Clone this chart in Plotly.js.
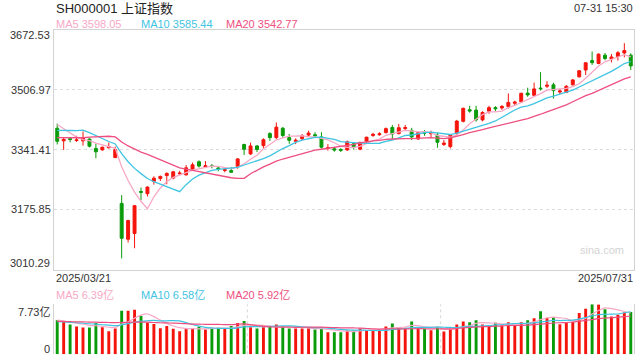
<!DOCTYPE html>
<html><head><meta charset="utf-8">
<script src="https://cdn.plot.ly/plotly-3.0.1.min.js"></script>
<style>html,body{margin:0;padding:0;background:#fff}#chart{width:640px;height:360px}</style>
</head><body><div id="chart"></div>
<script>
const dates = ["2025/03/21","2025/03/24","2025/03/25","2025/03/26","2025/03/27","2025/03/28","2025/03/31",
"2025/04/01","2025/04/02","2025/04/03","2025/04/07","2025/04/08","2025/04/09","2025/04/10","2025/04/11","2025/04/14","2025/04/15","2025/04/16","2025/04/17","2025/04/18","2025/04/21","2025/04/22","2025/04/23","2025/04/24","2025/04/25","2025/04/28","2025/04/29","2025/04/30",
"2025/05/06","2025/05/07","2025/05/08","2025/05/09","2025/05/12","2025/05/13","2025/05/14","2025/05/15","2025/05/16","2025/05/19","2025/05/20","2025/05/21","2025/05/22","2025/05/23","2025/05/26","2025/05/27","2025/05/28","2025/05/29","2025/05/30",
"2025/06/03","2025/06/04","2025/06/05","2025/06/06","2025/06/09","2025/06/10","2025/06/11","2025/06/12","2025/06/13","2025/06/16","2025/06/17","2025/06/18","2025/06/19","2025/06/20","2025/06/23","2025/06/24","2025/06/25","2025/06/26","2025/06/27","2025/06/30",
"2025/07/01","2025/07/02","2025/07/03","2025/07/04","2025/07/07","2025/07/08","2025/07/09","2025/07/10","2025/07/11","2025/07/14","2025/07/15","2025/07/16","2025/07/17","2025/07/18","2025/07/21","2025/07/22","2025/07/23","2025/07/24","2025/07/25","2025/07/28","2025/07/29","2025/07/30","2025/07/31"];

const open = [3401,3366,3372,3367,3366,3371,3345,3341,3347,3320,3193,3094,3110,3226,3220,3254,3262,3270,3263,3275,3272,3288,3308,3294,3297,3291,3284,3284,
3295,3356,3330,3352,3353,3386,3375,3401,3375,3365,3372,3382,3383,3377,3345,3344,3342,3341,3358,
3343,3364,3381,3383,3389,3403,3386,3400,3395,3371,3390,3386,3382,3356,3350,3386,3420,3452,3451,3424,
3448,3458,3457,3461,3470,3474,3498,3492,3512,3517,3521,3501,3500,3521,3543,3562,3588,3580,3603,3593,3599,3609,3603];
const high = [3414,3376,3376,3380,3392,3373,3358,3350,3361,3350,3216,3148,3188,3237,3240,3268,3270,3279,3283,3283,3299,3306,3312,3310,3302,3296,3292,3293,
3318,3358,3361,3354,3373,3390,3417,3404,3385,3373,3385,3394,3390,3390,3357,3348,3346,3367,3362,
3363,3377,3388,3390,3403,3410,3413,3410,3402,3391,3396,3394,3389,3368,3385,3424,3458,3463,3463,3448,
3463,3462,3465,3497,3477,3499,3513,3527,3556,3531,3527,3510,3520,3537,3562,3583,3613,3608,3609,3606,3614,3636,3608];
const low = [3356,3341,3362,3363,3353,3348,3318,3339,3345,3318,3041,3085,3069,3202,3212,3245,3255,3246,3260,3271,3270,3286,3292,3291,3290,3282,3279,3278,
3289,3327,3327,3335,3345,3366,3370,3375,3358,3357,3368,3378,3374,3345,3339,3336,3335,3338,3342,
3340,3360,3377,3380,3386,3371,3384,3393,3368,3369,3380,3376,3347,3352,3345,3382,3417,3444,3419,3420,
3441,3448,3452,3455,3465,3471,3488,3490,3505,3512,3483,3495,3498,3519,3541,3548,3576,3578,3589,3583,3588,3597,3562];
const close = [3364.83,3370.03,3369.98,3368.70,3373.75,3351.31,3335.75,3348.44,3350.13,3342.01,3096.58,3145.55,3186.81,3223.64,3238.23,3262.81,3267.66,3276.00,3280.34,3276.73,3291.43,3299.76,3296.36,3297.29,3295.06,3288.41,3286.65,3279.03,
3316.11,3342.67,3352.00,3342.00,3369.24,3374.87,3403.95,3380.82,3367.46,3367.58,3380.48,3387.57,3380.19,3348.37,3346.84,3340.69,3339.93,3363.45,3347.49,
3361.98,3376.20,3384.10,3385.36,3399.77,3384.82,3402.32,3402.66,3377.00,3388.73,3387.40,3388.81,3362.11,3359.90,3381.58,3420.57,3455.97,3448.45,3424.23,3444.43,
3457.75,3454.79,3461.15,3472.32,3473.13,3497.48,3493.05,3509.68,3510.18,3519.65,3505.00,3503.78,3516.83,3534.48,3559.79,3581.86,3582.30,3605.73,3593.66,3597.94,3609.71,3615.72,3573.21];

const ma5 = [3411.22,3400.00,3388.04,3376.50,3369.46,3366.75,3359.90,3355.59,3351.88,3345.53,3294.58,3256.54,3224.22,3198.92,3178.16,3211.41,3235.83,3253.67,3265.01,3272.71,3278.43,3284.85,3288.92,3292.31,3295.98,3295.38,3292.75,3289.29,
3293.05,3302.57,3315.29,3326.36,3344.40,3356.16,3368.41,3374.18,3379.27,3378.94,3380.06,3376.78,3376.66,3372.84,3368.69,3360.73,3351.20,3347.86,3347.68,
3350.71,3357.81,3366.64,3371.03,3381.48,3386.05,3391.27,3394.99,3393.31,3391.11,3391.62,3388.92,3380.81,3377.39,3375.96,3382.59,3396.03,3413.29,3426.16,3438.73,
3446.17,3445.93,3448.47,3458.09,3463.83,3471.77,3479.43,3489.13,3496.70,3506.01,3507.51,3509.66,3511.09,3515.95,3523.98,3539.35,3555.05,3572.83,3584.67,3592.30,3597.87,3604.55,3598.05];
const ma10 = [3395.23,3395.62,3394.63,3394.31,3395.81,3388.99,3379.95,3371.82,3364.19,3357.49,3330.67,3308.22,3289.90,3275.40,3261.85,3253.00,3246.19,3238.94,3231.96,3225.44,3244.92,3260.34,3271.30,3278.66,3284.34,3286.90,3288.80,3289.11,
3292.68,3299.28,3305.33,3309.56,3316.85,3324.60,3335.49,3344.73,3352.82,3361.67,3368.11,3372.60,3375.42,3376.05,3373.81,3370.40,3363.99,3362.26,3360.26,
3359.70,3359.27,3358.92,3359.44,3364.58,3368.38,3374.54,3380.82,3382.17,3386.29,3388.84,3390.10,3387.90,3385.35,3383.53,3387.11,3392.47,3397.05,3401.78,3407.35,
3414.38,3420.98,3430.88,3442.12,3451.28,3458.97,3462.68,3468.80,3477.40,3484.92,3489.64,3494.54,3500.11,3506.33,3514.99,3523.43,3532.36,3541.96,3550.31,3558.14,3568.61,3579.80,3585.44];
const ma20 = [3374.86,3374.71,3375.91,3375.34,3374.62,3376.14,3377.08,3378.29,3378.70,3376.75,3362.95,3351.92,3342.27,3334.85,3328.83,3320.99,3313.07,3305.38,3298.08,3291.46,3287.79,3284.28,3280.60,3277.03,3273.09,3269.95,3267.49,3264.02,
3262.32,3262.36,3275.13,3284.95,3294.07,3301.63,3309.92,3315.82,3320.81,3325.39,3330.40,3335.94,3340.38,3342.81,3345.33,3347.50,3349.74,3353.50,3356.54,
3360.68,3363.69,3365.76,3367.43,3370.32,3371.10,3372.47,3372.40,3372.21,3373.28,3374.27,3374.68,3373.41,3372.40,3374.06,3377.74,3383.51,3388.93,3391.97,3396.82,
3401.61,3405.54,3409.39,3413.74,3417.41,3423.04,3427.58,3432.93,3439.59,3446.13,3452.01,3457.76,3465.50,3474.23,3483.14,3491.20,3497.52,3505.38,3513.85,3521.53,3529.13,3537.17,3542.78];

// volume in 亿
const volume = [5.25,5.09,4.62,4.30,4.15,4.15,4.83,4.20,3.57,3.99,6.72,6.72,6.88,5.94,4.89,4.67,4.04,4.36,3.94,3.57,3.94,3.99,4.25,3.84,4.09,4.09,3.94,4.36,
4.83,5.14,4.20,3.99,4.20,4.25,4.62,4.25,3.99,3.99,3.99,4.09,3.84,3.99,3.41,3.41,3.41,3.67,3.67,
3.99,3.72,3.72,3.84,4.30,4.77,4.09,4.09,5.09,4.04,3.94,3.72,4.25,3.52,3.94,4.62,5.09,4.94,5.25,4.62,
4.36,4.89,4.47,4.94,4.37,4.94,5.25,5.56,6.64,5.66,5.71,4.63,4.89,5.00,6.40,7.06,7.73,7.70,6.98,5.85,6.10,6.45,6.55];
const volMa5 = [5.30,5.15,4.95,4.80,4.68,4.46,4.41,4.33,4.18,4.15,4.66,5.04,5.58,6.05,6.23,5.82,5.28,4.78,4.38,4.12,3.97,3.96,3.94,3.92,4.02,4.05,4.04,4.06,
4.26,4.47,4.49,4.50,4.47,4.36,4.25,4.26,4.26,4.22,4.17,4.06,3.98,3.98,3.86,3.75,3.61,3.58,3.51,
3.63,3.69,3.75,3.79,3.91,4.07,4.14,4.22,4.47,4.42,4.25,4.18,4.21,3.89,3.87,4.01,4.28,4.42,4.77,4.90,
4.85,4.81,4.72,4.66,4.61,4.72,4.79,5.01,5.35,5.61,5.76,5.64,5.51,5.18,5.33,5.60,6.22,6.78,7.17,7.06,6.87,6.62,6.39];
const volMa10 = [5.05,5.00,4.95,4.88,4.80,4.72,4.65,4.57,4.50,4.42,4.56,4.73,4.95,5.12,5.19,5.24,5.16,5.18,5.22,5.17,4.90,4.62,4.36,4.15,4.07,4.01,4.00,4.00,
4.09,4.25,4.27,4.27,4.27,4.31,4.36,4.38,4.38,4.35,4.26,4.16,4.12,4.12,4.04,3.96,3.84,3.78,3.75,
3.75,3.72,3.68,3.68,3.71,3.85,3.92,3.99,4.13,4.17,4.16,4.16,4.21,4.18,4.15,4.13,4.23,4.32,4.33,4.39,
4.43,4.55,4.57,4.71,4.76,4.79,4.80,4.87,5.00,5.11,5.24,5.22,5.26,5.27,5.47,5.68,5.93,6.14,6.18,6.20,6.23,6.42,6.58];
const volMa20 = [5.10,5.08,5.05,5.02,5.00,4.98,4.96,4.94,4.92,4.90,4.92,4.95,4.97,4.98,4.96,4.92,4.88,4.85,4.82,4.79,4.73,4.67,4.66,4.63,4.63,4.63,4.58,4.59,
4.65,4.71,4.58,4.45,4.31,4.23,4.22,4.19,4.19,4.17,4.18,4.20,4.20,4.20,4.16,4.13,4.10,4.08,4.07,
4.05,3.99,3.92,3.90,3.92,3.95,3.94,3.91,3.95,3.96,3.95,3.94,3.95,3.93,3.93,3.99,4.07,4.15,4.23,4.28,
4.30,4.35,4.39,4.45,4.45,4.46,4.52,4.59,4.67,4.75,4.84,4.88,4.91,4.99,5.11,5.23,5.37,5.50,5.59,5.65,5.74,5.82,5.92];

const priceTicks = [3175.85, 3341.41, 3506.97];
const priceMin = 3010.29, priceMax = 3672.53;
const volMax = 7.73;

const UP = '#f5140c', DOWN = '#0a9b0a';
const C5 = '#f7a8c6', C10 = '#3fc4e2', C20 = '#ee4f80';
const volColors = close.map((c, i) => c >= open[i] ? UP : DOWN);

const traces = [
  {type:'candlestick', x:dates, open:open, high:high, low:low, close:close, xaxis:'x', yaxis:'y',
   increasing:{line:{color:UP, width:1}, fillcolor:UP},
   decreasing:{line:{color:DOWN, width:1}, fillcolor:DOWN},
   whiskerwidth:0, hoverinfo:'skip'},
  {type:'scatter', mode:'lines', x:dates, y:ma5, xaxis:'x', yaxis:'y', line:{color:C5, width:1.3}},
  {type:'scatter', mode:'lines', x:dates, y:ma10, xaxis:'x', yaxis:'y', line:{color:C10, width:1.3}},
  {type:'scatter', mode:'lines', x:dates, y:ma20, xaxis:'x', yaxis:'y', line:{color:C20, width:1.3}},
  {type:'bar', x:dates, y:volume, xaxis:'x2', yaxis:'y2', marker:{color:volColors, line:{width:0}}},
  {type:'scatter', mode:'lines', x:dates, y:volMa5, xaxis:'x2', yaxis:'y2', line:{color:C5, width:1.2, shape:'spline', smoothing:0.8}},
  {type:'scatter', mode:'lines', x:dates, y:volMa10, xaxis:'x2', yaxis:'y2', line:{color:C10, width:1.2, shape:'spline', smoothing:0.8}},
  {type:'scatter', mode:'lines', x:dates, y:volMa20, xaxis:'x2', yaxis:'y2', line:{color:C20, width:1.2, shape:'spline', smoothing:0.8}}
];

const X0 = 54/640, X1 = 634/640;
const TXT = '#333333';
const FONT = 'Liberation Sans, Arial, Noto Sans CJK SC, sans-serif';
function ann(text, xpx, ypx, anchor, color, size) {
  return {text:text, xref:'paper', yref:'paper', x:xpx/640, y:(360-ypx)/360, xanchor:anchor, yanchor:'middle',
    showarrow:false, font:{family:FONT, size:size||11, color:color||TXT}, borderpad:0};
}

const layout = {
  width:640, height:360, margin:{l:0, r:0, t:0, b:0}, paper_bgcolor:'#fff', plot_bgcolor:'#fff',
  showlegend:false, boxgap:0.35, bargap:0.55, font:{family:FONT, size:11, color:TXT},
  xaxis:{domain:[X0, X1], type:'category', range:[-0.5, dates.length-0.5], showticklabels:false, ticks:'',
    showgrid:false, rangeslider:{visible:false}, showline:true, mirror:true, linecolor:'#d3d3d3', linewidth:1, zeroline:false, fixedrange:true},
  yaxis:{domain:[90.5/360, 330/360], range:[priceMin, priceMax], tickvals:priceTicks, ticktext:priceTicks.map(v=>v.toFixed(2)),
    ticks:'', showgrid:true, gridcolor:'#dcdcdc', griddash:'dot', gridwidth:1, zeroline:false,
    showline:true, mirror:true, linecolor:'#d3d3d3', linewidth:1, tickfont:{size:11, color:TXT}, fixedrange:true},
  xaxis2:{domain:[X0, X1], type:'category', anchor:'y2', range:[-0.5, dates.length-0.5], showticklabels:false, ticks:'',
    showgrid:false, showline:false, zeroline:false, fixedrange:true},
  yaxis2:{domain:[5.7/360, 55.7/360], anchor:'x2', range:[0, volMax], tickvals:[0, volMax], showticklabels:false, ticks:'',
    showgrid:true, gridcolor:'#d6d6d6', griddash:'dot', zeroline:false, showline:true, mirror:true, linecolor:'#d3d3d3', fixedrange:true},
  shapes:[
    {type:'line', xref:'x2 domain', yref:'y2 domain', x0:1/3, x1:1/3, y0:0, y1:1, line:{color:'#d6d6d6', width:1, dash:'dot'}, layer:'below'},
    {type:'line', xref:'x2 domain', yref:'y2 domain', x0:2/3, x1:2/3, y0:0, y1:1, line:{color:'#d6d6d6', width:1, dash:'dot'}, layer:'below'}
  ],
  annotations:[
    ann('SH000001 上证指数', 55, 8, 'left', '#222', 13),
    ann('07-31 15:30', 634, 8, 'right', '#333', 11),
    ann('MA5 3598.05', 55, 24, 'left', C5),
    ann('MA10 3585.44', 140, 24, 'left', C10),
    ann('MA20 3542.77', 225, 24, 'left', C20),
    ann(priceMax.toFixed(2), 51, 35, 'right'),
    ann(priceMin.toFixed(2), 51, 263, 'right'),
    ann('sina.com', 625, 250, 'right', '#d4d4d4', 11),
    ann(dates[0], 55, 277.5, 'left'),
    ann(dates[dates.length-1], 634, 277.5, 'right'),
    ann('MA5 6.39亿', 55, 295, 'left', C5),
    ann('MA10 6.58亿', 140, 295, 'left', C10),
    ann('MA20 5.92亿', 225, 295, 'left', C20),
    ann(volMax + '亿', 51, 311.7, 'right'),
    ann('0', 51, 349, 'right')
  ]
};

Plotly.newPlot('chart', traces, layout, {staticPlot:true, displayModeBar:false});
</script></body></html>
